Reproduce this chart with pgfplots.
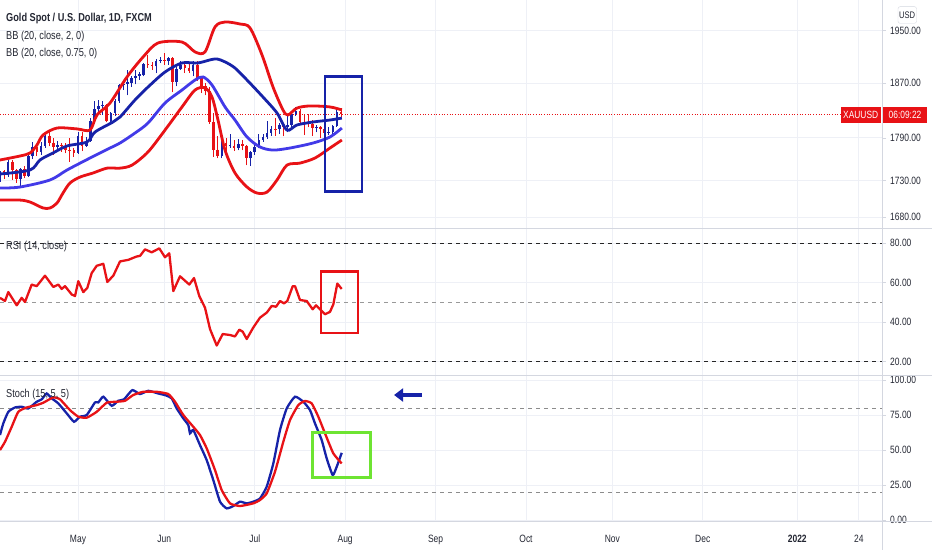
\documentclass[border=0pt]{standalone}
\usepackage{pgfplots}
\pgfplotsset{compat=1.18}
\usetikzlibrary{arrows.meta}
\usepackage{fontspec}
\setmainfont{Liberation Sans}[FakeStretch=0.8]

\definecolor{tvtext}{RGB}{35,38,50}
\definecolor{tvgrid}{RGB}{238,240,246}
\definecolor{tvaxis}{RGB}{212,215,224}
\definecolor{bbred}{RGB}{232,18,22}
\definecolor{bbblue}{RGB}{22,34,168}
\definecolor{bblight}{RGB}{66,58,232}
\definecolor{boxgreen}{RGB}{110,228,50}
\newcommand\tvfont{\fontsize{11.5bp}{13bp}\selectfont}
\newcommand\tickfont{\fontsize{10.6bp}{12bp}\selectfont}

\pgfplotsset{
  tvpanel/.style={
    scale only axis, width=882bp, anchor=south west,
    xmin=-18.98, xmax=195.62,
    axis line style={draw=none},
    xtick={0,21,43,65,87,109,130,152,175,190},
    xticklabels={},
    xmajorgrids, ymajorgrids,
    grid style={tvgrid, line width=0.9bp},
    yticklabel pos=right,
    tick align=outside, major tick length=4bp,
    xtick style={draw=none},
    ytick style={draw=tvaxis, line width=0.7bp},
    minor tick num=0,
    tick label style={font=\tickfont, text=tvtext},
    yticklabel style={anchor=west, inner sep=0pt, xshift=4bp},
  },
  band/.style={line width=2.8bp, smooth, tension=0.5},
  wick/.style={line width=0.9bp, unbounded coords=jump, forget plot},
  body/.style={line width=2.6bp, unbounded coords=jump, forget plot},
}

\begin{document}
\begin{tikzpicture}[x=1bp,y=1bp]

% ---------------- price panel (x = trading day, 0 = 3 May 2021), log price scale ----------------
\begin{axis}[tvpanel, at={(0bp,322bp)}, height=228bp,
  y coord trafo/.code={\pgfmathparse{ln(#1)}},
  y coord inv trafo/.code={\pgfmathparse{exp(#1)}},
  ymin=1665.7, ymax=1998.5,
  ytick={1680,1730,1790,1870,1950},
  yticklabels={1680.00,1730.00,1790.00,1870.00,1950.00}]
\addplot[bbred, dotted, line width=0.7bp] coordinates {(-18.98,1824) (185.6,1824)};
% up candles: wick low-high, body open-close
\addplot[bbblue, wick] coordinates {
(-19,1726)(-19,1746)(-19,nan) (-17,1735)(-17,1759)(-17,nan) (-14,1723)(-14,1748)(-14,nan)
(-12,1735)(-12,1766)(-12,nan) (-11,1760)(-11,1784)(-11,nan) (-9,1766)(-9,1784)(-9,nan)
(-8,1776)(-8,1795)(-8,nan) (-5,1771)(-5,1786)(-5,nan) (0,1767)(0,1798)(0,nan)
(2,1777)(2,1791)(2,nan) (3,1784)(3,1819)(3,nan) (4,1811)(4,1844)(4,nan)
(5,1828)(5,1845)(5,nan) (6,1823)(6,1844)(6,nan) (8,1808)(8,1828)(8,nan)
(9,1822)(9,1846)(9,nan) (10,1841)(10,1869)(10,nan) (11,1860)(11,1875)(11,nan)
(12,1852)(12,1890)(12,nan) (13,1864)(13,1880)(13,nan) (14,1868)(14,1890)(14,nan)
(15,1875)(15,1887)(15,nan) (16,1880)(16,1900)(16,nan) (19,1885)(19,1906)(19,nan)
(20,1900)(20,1909)(20,nan) (22,1898)(22,1910)(22,nan) (24,1865)(24,1894)(24,nan)
(25,1890)(25,1903)(25,nan) (28,1880)(28,1903)(28,nan) (35,1761)(35,1787)(35,nan)
(37,1776)(37,1795)(37,nan) (39,1772)(39,1788)(39,nan) (42,1750)(42,1771)(42,nan)
(43,1766)(43,1784)(43,nan) (44,1775)(44,1795)(44,nan) (45,1784)(45,1795)(45,nan)
(46,1788)(46,1815)(46,nan) (47,1793)(47,1807)(47,nan) (49,1796)(49,1811)(49,nan)
(51,1798)(51,1822)(51,nan) (52,1805)(52,1829)(52,nan) (53,1822)(53,1834)(53,nan)
(58,1798)(58,1808)(58,nan) (61,1794)(61,1806)(61,nan) (62,1796)(62,1808)(62,nan)
(63,1806)(63,1832)(63,nan)};
\addplot[bbblue, body] coordinates {
(-19,1728)(-19,1743)(-19,nan) (-17,1737)(-17,1756)(-17,nan) (-14,1732)(-14,1746)(-14,nan)
(-12,1736)(-12,1764)(-12,nan) (-11,1764)(-11,1777)(-11,nan) (-9,1770)(-9,1779)(-9,nan)
(-8,1779)(-8,1793)(-8,nan) (-5,1777)(-5,1780)(-5,nan) (0,1769)(0,1792)(0,nan)
(2,1779)(2,1786)(2,nan) (3,1786)(3,1815)(3,nan) (4,1815)(4,1831)(4,nan)
(5,1831)(5,1836)(5,nan) (6,1836)(6,1838)(6,nan) (8,1815)(8,1826)(8,nan)
(9,1826)(9,1843)(9,nan) (10,1843)(10,1867)(10,nan) (11,1867)(11,1869)(11,nan)
(12,1869)(12,1871)(12,nan) (13,1870)(13,1877)(13,nan) (14,1877)(14,1881)(14,nan)
(15,1881)(15,1883)(15,nan) (16,1882)(16,1899)(16,nan) (19,1895)(19,1903)(19,nan)
(20,1903)(20,1905)(20,nan) (22,1903)(22,1908)(22,nan) (24,1871)(24,1891)(24,nan)
(25,1891)(25,1898)(25,nan) (28,1888)(28,1898)(28,nan) (35,1764)(35,1782)(35,nan)
(37,1778)(37,1780)(37,nan) (39,1776)(39,1781)(39,nan) (42,1761)(42,1770)(42,nan)
(43,1770)(43,1777)(43,nan) (44,1777)(44,1787)(44,nan) (45,1787)(45,1791)(45,nan)
(46,1791)(46,1797)(46,nan) (47,1797)(47,1803)(47,nan) (49,1802)(49,1808)(49,nan)
(51,1806)(51,1809)(51,nan) (52,1809)(52,1825)(52,nan) (53,1825)(53,1829)(53,nan)
(58,1804)(58,1806)(58,nan) (61,1797)(61,1799)(61,nan) (62,1799)(62,1807)(62,nan)
(63,1807)(63,1828)(63,nan)};
% down candles
\addplot[bbred, wick] coordinates {
(-18,1732)(-18,1745)(-18,nan) (-16,1731)(-16,1758)(-16,nan) (-15,1727)(-15,1746)(-15,nan)
(-13,1733)(-13,1750)(-13,nan) (-10,1764)(-10,1781)(-10,nan) (-7,1778)(-7,1798)(-7,nan)
(-6,1766)(-6,1790)(-6,nan) (-4,1770)(-4,1783)(-4,nan) (-3,1768)(-3,1782)(-3,nan)
(-2,1756)(-2,1790)(-2,nan) (-1,1763)(-1,1776)(-1,nan) (1,1771)(1,1798)(1,nan)
(7,1812)(7,1839)(7,nan) (17,1893)(17,1913)(17,nan) (18,1890)(18,1902)(18,nan)
(21,1898)(21,1916)(21,nan) (23,1856)(23,1909)(23,nan) (26,1885)(26,1903)(26,nan)
(27,1885)(27,1900)(27,nan) (29,1874)(29,1904)(29,nan) (30,1855)(30,1878)(30,nan)
(31,1852)(31,1870)(31,nan) (32,1810)(32,1864)(32,nan) (33,1763)(33,1826)(33,nan)
(34,1761)(34,1792)(34,nan) (36,1770)(36,1790)(36,nan) (38,1771)(38,1787)(38,nan)
(40,1772)(40,1787)(40,nan) (41,1751)(41,1780)(41,nan) (48,1793)(48,1818)(48,nan)
(50,1792)(50,1809)(50,nan) (54,1809)(54,1831)(54,nan) (55,1794)(55,1825)(55,nan)
(56,1805)(56,1825)(56,nan) (57,1793)(57,1816)(57,nan) (59,1789)(59,1807)(59,nan)
(60,1792)(60,1810)(60,nan) (64,1820)(64,1833)(64,nan)};
\addplot[bbred, body] coordinates {
(-18,1743)(-18,1737)(-18,nan) (-16,1756)(-16,1744)(-16,nan) (-15,1744)(-15,1732)(-15,nan)
(-13,1746)(-13,1736)(-13,nan) (-10,1777)(-10,1770)(-10,nan) (-7,1793)(-7,1783)(-7,nan)
(-6,1783)(-6,1777)(-6,nan) (-4,1780)(-4,1778)(-4,nan) (-3,1778)(-3,1773)(-3,nan)
(-2,1773)(-2,1771)(-2,nan) (-1,1772)(-1,1769)(-1,nan) (1,1792)(1,1779)(1,nan)
(7,1837)(7,1815)(7,nan) (17,1899)(17,1897)(17,nan) (18,1897)(18,1895)(18,nan)
(21,1905)(21,1903)(21,nan) (23,1908)(23,1871)(23,nan) (26,1898)(26,1893)(26,nan)
(27,1893)(27,1888)(27,nan) (29,1898)(29,1877)(29,nan) (30,1877)(30,1866)(30,nan)
(31,1866)(31,1858)(31,nan) (32,1858)(32,1812)(32,nan) (33,1812)(33,1773)(33,nan)
(34,1773)(34,1764)(34,nan) (36,1782)(36,1778)(36,nan) (38,1779)(38,1776)(38,nan)
(40,1781)(40,1779)(40,nan) (41,1779)(41,1761)(41,nan) (48,1803)(48,1802)(48,nan)
(50,1808)(50,1806)(50,nan) (54,1829)(54,1812)(54,nan) (55,1812)(55,1811)(55,nan)
(56,1811)(56,1810)(56,nan) (57,1810)(57,1804)(57,nan) (59,1806)(59,1802)(59,nan)
(60,1802)(60,1797)(60,nan) (64,1828)(64,1824)(64,nan)};
% BB (20, close, 2)
\addplot[bbred, band] coordinates {
(-18.98,1758.6) (-14.11,1764.2) (-11.68,1768.4) (-9.98,1779.8) (-8.52,1794.1)
(-5.11,1804.1) (-0.24,1802.7) (2.92,1801.2) (4.62,1823.0) (7.79,1840.5)
(11.92,1879.2) (15.82,1909.5) (19.46,1931.0) (25.30,1932.5) (28.47,1917.1)
(30.90,1917.1) (33.33,1955.8) (35.77,1963.7) (39.42,1960.5) (41.85,1954.3)
(44.77,1912.5) (47.45,1864.2) (49.88,1830.3) (51.09,1823.0) (53.28,1833.2)
(56.45,1836.1) (61.31,1834.7) (64.2,1830.3)};
\addplot[bbred, band] coordinates {
(-18.98,1703.2) (-14.11,1703.2) (-11.68,1700.5) (-8.52,1692.4) (-6.81,1692.4)
(-5.11,1699.1) (-3.65,1712.8) (-1.95,1726.5) (0.49,1734.8) (3.65,1740.4)
(7.06,1747.3) (10.22,1747.3) (13.14,1751.5) (17.03,1769.8) (21.17,1801.2)
(25.30,1834.7) (28.47,1859.8) (30.90,1862.7) (32.60,1849.4) (34.06,1815.7)
(35.77,1772.6) (38.20,1740.4) (41.12,1721.0) (43.55,1712.8) (45.99,1714.1)
(48.42,1730.7) (50.85,1751.5) (54.01,1754.3) (57.66,1761.4) (61.31,1775.5)
(64.2,1786.9)};
% BB (20, close, 0.75)
\addplot[bblight, band] coordinates {
(-18.98,1719.6) (-14.11,1721.0) (-6.81,1730.7) (-2.68,1744.5) (2.92,1761.4)
(7.79,1775.5) (10.22,1782.6) (13.87,1796.9) (17.03,1811.3) (21.17,1840.5)
(25.30,1859.8) (28.47,1874.7) (30.41,1879.2) (32.60,1867.2) (35.77,1834.7)
(38.20,1815.7) (41.12,1791.2) (44.28,1776.9) (47.45,1772.6) (51.58,1775.5)
(57.18,1782.6) (61.31,1791.2) (64.2,1804.1)};
\addplot[bbblue, band] coordinates {
(-18.98,1739.0) (-11.68,1744.5) (-9.25,1758.6) (-6.08,1768.4) (-2.68,1778.3)
(2.19,1784.0) (4.14,1798.4) (8.52,1812.8) (10.22,1820.0) (13.87,1845.0)
(17.03,1864.2) (21.17,1886.7) (25.30,1900.4) (29.20,1900.4) (33.33,1906.4)
(35.77,1901.9) (38.20,1892.8) (41.12,1874.7) (45.01,1849.4) (48.42,1825.9)
(50.85,1801.2) (53.28,1808.5) (57.18,1812.8) (61.31,1815.7) (64.2,1818.6)};
% annotation box
\addplot[bbblue, line width=2.6bp, line join=miter] coordinates {
(60.1,1879.5) (69.1,1879.5) (69.1,1714.6) (60.1,1714.6) (60.1,1879.5) (69.1,1879.5)};
\end{axis}

% ---------------- RSI panel ----------------
\begin{axis}[tvpanel, at={(0bp,175bp)}, height=147bp,
  ymin=13.3, ymax=87.6,
  ytick={20,40,60,80}, yticklabels={20.00,40.00,60.00,80.00}]
\addplot[black!85, line width=1bp, dash pattern=on 4bp off 4bp] coordinates {(-18.98,80) (195.62,80)};
\addplot[black!85, line width=1bp, dash pattern=on 4bp off 4bp] coordinates {(-18.98,20) (195.62,20)};
\addplot[black!40, line width=0.8bp, dash pattern=on 4bp off 4bp] coordinates {(-18.98,50) (195.62,50)};
\addplot[bbred, line width=2.3bp, line join=round] coordinates {
(-18.98,52.3) (-17.76,50.7) (-16.96,55.2) (-14.91,48.5) (-13.70,52.3) (-12.90,50.2)
(-11.27,59.0) (-10.05,58.2) (-8.03,63.5) (-6.01,57.8) (-4.79,59.0) (-3.97,56.8)
(-3.16,58.2) (-1.53,54.0) (-0.73,53.2) (0.07,60.7) (1.29,55.2) (2.26,57.3)
(3.33,64.8) (4.55,68.5) (6.16,69.5) (7.13,60.3) (8.59,63.5) (10.22,70.7)
(12.24,71.5) (14.28,73.2) (15.09,73.5) (16.30,76.8) (17.93,75.3) (19.78,77.3)
(21.17,72.8) (22.21,74.8) (23.19,55.7) (24.82,63.2) (27.08,59.0) (28.22,62.3)
(29.51,53.2) (30.90,47.3) (32.12,36.5) (33.75,28.2) (35.21,34.0) (36.98,33.5)
(38.20,32.8) (39.25,36.2) (40.07,35.2) (41.05,31.5) (42.65,37.3) (44.28,42.3)
(45.91,44.8) (47.13,48.2) (48.18,47.8) (49.15,50.7) (50.12,49.5) (50.92,50.7)
(52.24,58.2) (52.80,58.2) (54.01,51.2) (55.64,50.7) (57.10,46.5) (57.91,48.5)
(58.88,46.5) (60.10,44.0) (61.31,45.2) (62.12,49.0) (63.09,59.5) (64.16,56.8)};
\addplot[bbred, line width=2.6bp, line join=miter] coordinates {
(59.1,65.6) (68.1,65.6) (68.1,34.5) (59.1,34.5) (59.1,65.6) (68.1,65.6)};
\end{axis}

% ---------------- Stoch panel ----------------
\begin{axis}[tvpanel, at={(0bp,29bp)}, height=146bp,
  ymin=-0.7, ymax=103.6,
  ytick={0,25,50,75,100}, yticklabels={0.00,25.00,50.00,75.00,100.00},
  xticklabels={May,Jun,Jul,Aug,Sep,Oct,Nov,Dec,\textbf{2022},24},
  xticklabel style={anchor=base, yshift=-18bp}]
\addplot[black!45, line width=0.9bp, dash pattern=on 4bp off 4bp] coordinates {(-18.98,80) (195.62,80)};
\addplot[black!45, line width=0.9bp, dash pattern=on 4bp off 4bp] coordinates {(-18.98,20) (195.62,20)};
\addplot[bbblue, line width=2.3bp, smooth, tension=0.3] coordinates {
(-18.98,60.7) (-18.18,69.0) (-16.96,77.3) (-15.33,80.4) (-13.70,80.9) (-12.09,79.7)
(-10.05,84.5) (-8.83,86.2) (-7.62,90.4) (-6.40,86.9) (-4.79,83.3) (-2.75,76.2)
(-0.97,70.2) (0.49,73.8) (2.12,75.0) (4.14,84.0) (4.94,84.0) (6.16,88.1)
(8.20,81.6) (9.81,85.2) (11.19,86.2) (13.21,92.8) (15.09,90.0) (17.10,92.3)
(19.54,90.4) (21.41,89.0) (22.80,86.9) (24.01,79.7) (25.62,72.6) (26.84,67.8)
(27.25,61.9) (28.05,64.3) (29.68,53.5) (31.31,42.8) (32.92,28.5) (34.55,13.1)
(36.18,8.3) (37.79,10.0) (39.42,13.1) (41.05,11.9) (42.65,13.1) (44.28,15.4)
(45.91,23.8) (47.52,40.4) (49.15,64.3) (50.78,79.7) (52.80,88.1) (54.82,84.5)
(56.45,78.5) (57.66,69.0) (59.29,57.1) (60.51,44.0) (61.97,32.1) (62.94,38.0)
(64.16,48.0)};
\addplot[bbred, line width=2.3bp, smooth, tension=0.3] coordinates {
(-18.98,50.0) (-17.76,55.9) (-16.13,66.6) (-14.53,77.3) (-12.48,80.4) (-10.05,82.1)
(-8.44,83.8) (-6.01,87.6) (-4.38,86.2) (-1.95,78.5) (0.07,73.8) (2.12,73.1)
(4.55,77.3) (6.98,83.8) (9.42,84.5) (11.44,85.2) (13.45,89.3) (15.89,91.6)
(19.15,91.6) (21.97,90.0) (23.60,84.5) (25.62,75.0) (28.05,66.6) (29.68,60.7)
(31.31,51.2) (33.33,35.7) (34.96,21.4) (36.98,11.9) (39.42,10.0) (42.65,11.9)
(44.28,14.3) (45.91,19.0) (47.93,34.5) (49.95,55.9) (51.58,71.4) (53.60,82.1)
(55.23,85.0) (56.86,83.3) (58.47,73.8) (60.10,61.9) (62.12,47.6) (64.16,40.4)};
\addplot[boxgreen, line width=2.6bp, line join=miter] coordinates {
(57.1,62.4) (71.2,62.4) (71.2,30.5) (57.1,30.5) (57.1,62.4) (71.2,62.4)};
\addplot[bbblue, line width=4bp, -{Triangle[length=9bp,width=13bp]}] coordinates {(83.7,89.3) (76.9,89.3)};
\end{axis}

% panel separators and price scale frame
\draw[tvaxis, line width=0.9bp] (0,322) -- (932,322);
\draw[tvaxis, line width=0.9bp] (0,175) -- (932,175);
\draw[tvaxis, line width=0.9bp] (0,29) -- (932,29);
\draw[tvaxis, line width=0.9bp] (882,0) -- (882,550);

% legends
\begin{scope}[every node/.style={anchor=base west, inner sep=0pt, text=tvtext, font=\tvfont}]
\node at (6,528.1) {\bfseries Gold Spot / U.S. Dollar, 1D, FXCM};
\node at (6,510.8) {BB (20, close, 2, 0)};
\node at (6,493.5) {BB (20, close, 0.75, 0)};
\node at (6,300.3) {RSI (14, close)};
\node at (6,152.7) {Stoch (15, 5, 5)};
\end{scope}

% last price labels
\fill[bbred] (841,427.3) rectangle (880.5,443.3);
\fill[bbred] (883,427.3) rectangle (927,443.3);
\node[text=white, inner sep=0pt, font=\fontsize{10.5bp}{12bp}\selectfont] at (860.7,435.3) {XAUUSD};
\node[text=white, inner sep=0pt, font=\fontsize{10.5bp}{12bp}\selectfont] at (905,435.3) {06:09:22};
\draw[tvaxis, fill=white, rounded corners=2bp] (898,526.7) rectangle (916.5,543.3);
\node[text=tvtext, inner sep=0pt, font=\fontsize{9.5bp}{11bp}\selectfont] at (907.2,535) {USD};

\pgfresetboundingbox
\useasboundingbox (0,0) rectangle (932,550);
\end{tikzpicture}
\end{document}
